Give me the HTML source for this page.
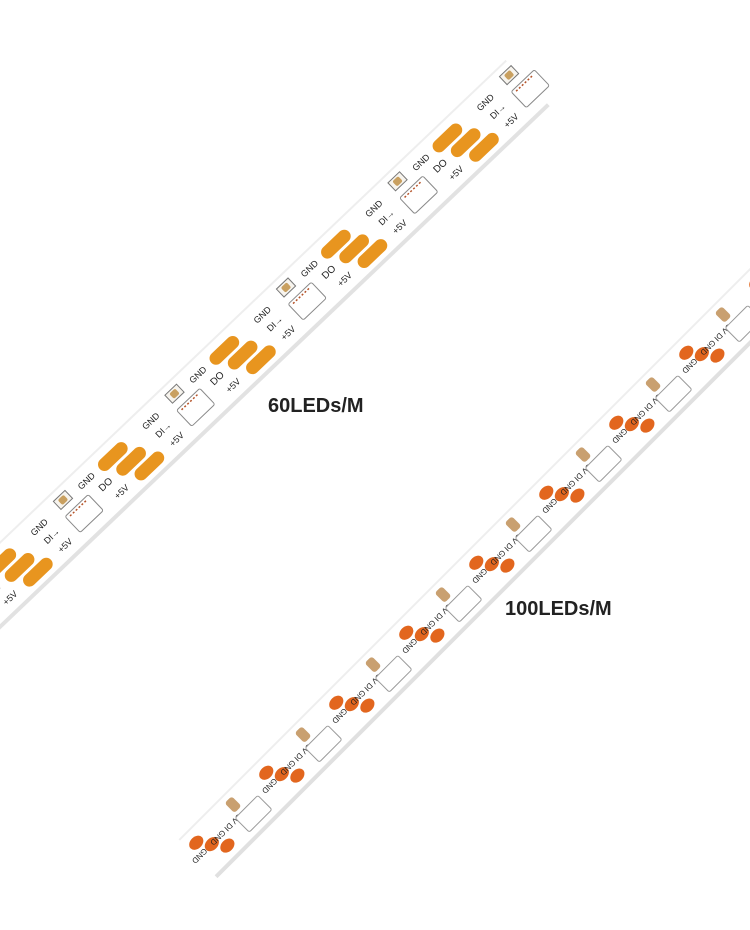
<!DOCTYPE html>
<html><head><meta charset="utf-8"><style>
html,body{margin:0;padding:0;background:#fff}
svg{display:block}
.t{font-family:"Liberation Sans",sans-serif;fill:#222}
</style></head><body>
<svg width="750" height="930" viewBox="0 0 750 930" xmlns="http://www.w3.org/2000/svg">
<defs>
<g id="u1">
  <rect x="0" y="-22" width="36" height="13" rx="6.5" fill="#e8951f"/>
  <rect x="10" y="-6" width="36" height="13" rx="6.5" fill="#e8951f"/>
  <rect x="20" y="10" width="36" height="13" rx="6.5" fill="#e8951f"/>
  <text class="t" x="-28" y="-13" font-size="9">GND</text>
  <text class="t" x="-14" y="3" font-size="10">DO</text>
  <text class="t" x="-8" y="19" font-size="9">+5V</text>
  <text class="t" x="60" y="-12" font-size="9">GND</text>
  <text class="t" x="64" y="3" font-size="9">DI→</text>
  <text class="t" x="68" y="19" font-size="9">+5V</text>
  <rect x="98" y="-24" width="16" height="11" fill="#f7f4ee" stroke="#777" stroke-width="1"/>
  <rect x="102" y="-22" width="8" height="7" rx="2" fill="#c9a060"/>
  <rect x="96" y="-5" width="32" height="22" rx="2" fill="#fff" stroke="#888" stroke-width="1"/>
  <line x1="100" y1="-2" x2="124" y2="-2" stroke="#b5542a" stroke-width="1.5" stroke-dasharray="2 2"/>
</g>
<g id="u2">
  <ellipse cx="0" cy="-12" rx="8" ry="6" fill="#e2661e"/>
  <ellipse cx="10" cy="0" rx="8" ry="6" fill="#e2661e"/>
  <ellipse cx="20" cy="12" rx="8" ry="6" fill="#e2661e"/>
  <text class="t" x="-26" y="3" font-size="8" transform="rotate(180 -12 0)">GND</text>
  <text class="t" x="30" y="3" font-size="8" transform="rotate(180 40 0)">5V DI GND</text>
  <rect x="48" y="-20" width="10" height="14" rx="3" fill="#c9a070"/>
  <rect x="45" y="-2" width="32" height="20" rx="2" fill="#fff" stroke="#999" stroke-width="1"/>
</g>
</defs>
<!-- strip 1 -->
<g transform="translate(-30,614) rotate(-43.6)">
  <rect x="0" y="-32" width="770" height="64" fill="#fff"/>
  <rect x="0" y="28" width="770" height="4" fill="#e2e2e2"/>
  <rect x="0" y="-32" width="770" height="2" fill="#eee"/>
  <use href="#u1" x="40"/>
  <use href="#u1" x="194"/>
  <use href="#u1" x="348"/>
  <use href="#u1" x="502"/>
  <use href="#u1" x="656"/>
</g>
<!-- strip 2 -->
<g transform="translate(180,876) rotate(-45)">
  <rect x="25" y="-27" width="840" height="55" fill="#fff"/>
  <rect x="25" y="24" width="840" height="4" fill="#e0e0e0"/>
  <rect x="25" y="-27" width="840" height="2" fill="#eee"/>
  <use href="#u2" x="35"/>
  <use href="#u2" x="134"/>
  <use href="#u2" x="233"/>
  <use href="#u2" x="332"/>
  <use href="#u2" x="431"/>
  <use href="#u2" x="530"/>
  <use href="#u2" x="629"/>
  <use href="#u2" x="728"/>
  <use href="#u2" x="827"/>
</g>
<text class="t" x="268" y="412" font-size="20" font-weight="bold" fill="#111">60LEDs/M</text>
<text class="t" x="505" y="615" font-size="20" font-weight="bold" fill="#111">100LEDs/M</text>
</svg>
</body></html>
